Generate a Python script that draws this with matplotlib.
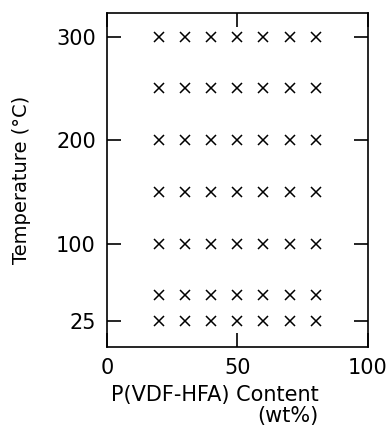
import matplotlib.pyplot as plt
import numpy as np

# composition (wt%) and temperature (deg C) grid of measured samples
contents = [20, 30, 40, 50, 60, 70, 80]
temperatures = [25, 50, 100, 150, 200, 250, 300]

ytick_values = [25, 100, 200, 300]
xtick_values = [0, 50, 100]

plt.rcParams['font.family'] = 'DejaVu Sans'

fig = plt.figure(figsize=(3.86, 4.28), dpi=100)
ax = fig.add_axes([0.277, 0.189, 0.676, 0.781])

xx, yy = np.meshgrid(contents, temperatures)
ax.plot(xx.ravel(), yy.ravel(), linestyle='none', marker='x',
        markersize=6.5, markeredgewidth=1.1, color='black')

ax.set_xlim(0, 100)
ax.set_ylim(0, 323)
ax.set_xticks(xtick_values)
ax.set_yticks(ytick_values)
ax.tick_params(direction='in', length=10, width=1.2, labelsize=15,
               top=True, right=True, pad=8)
for s in ax.spines.values():
    s.set_linewidth(1.2)

ax.set_ylabel('Temperature (°C)', fontsize=14, labelpad=18)
fig.text(0.557, 0.077, 'P(VDF-HFA) Content', fontsize=15, ha='center', va='center')
fig.text(0.746, 0.027, '(wt%)', fontsize=15, ha='center', va='center')

fig.savefig('out.png', dpi=100)
